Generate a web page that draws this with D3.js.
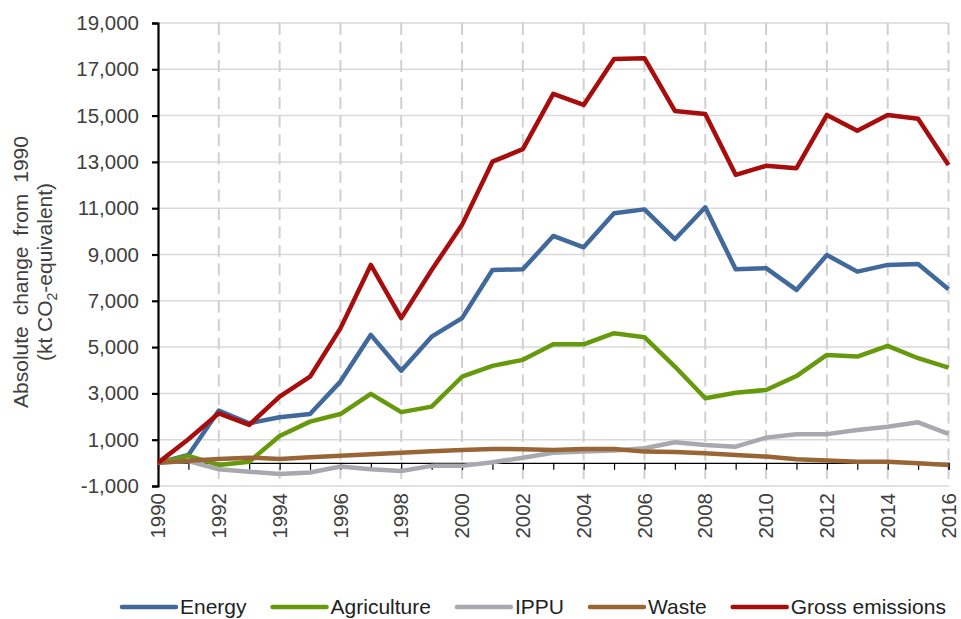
<!DOCTYPE html>
<html>
<head>
<meta charset="utf-8">
<script src="https://cdn.jsdelivr.net/npm/d3@7"></script>
<style>
  body { margin: 0; background: #fff; }
  text { font-family: "Liberation Sans", Arial, sans-serif; }
</style>
</head>
<body>
<svg id="chart" width="961" height="619"></svg>
<script>
// years and series (absolute change from 1990, kt CO2-e)
var years = [1990, 1991, 1992, 1993, 1994, 1995, 1996, 1997, 1998, 1999, 2000, 2001, 2002,
  2003, 2004, 2005, 2006, 2007, 2008, 2009, 2010, 2011, 2012, 2013, 2014, 2015, 2016];

var energy = [0, 340, 2260, 1710, 1970, 2110, 3510, 5530, 3980, 5450, 6250, 8330, 8360,
  9800, 9310, 10780, 10950, 9660, 11040, 8360, 8410, 7470, 8980, 8260, 8550, 8590, 7500];
var agriculture = [0, 300, -90, 50, 1160, 1780, 2110, 2980, 2190, 2430, 3720, 4190, 4450,
  5120, 5120, 5600, 5430, 4160, 2790, 3030, 3150, 3750, 4660, 4590, 5050, 4520, 4110];
var ippu = [0, 80, -280, -380, -480, -420, -160, -280, -350, -130, -130, 30, 220,
  440, 485, 530, 630, 890, 770, 700, 1090, 1240, 1240, 1420, 1560, 1750, 1250];
var waste = [0, 90, 170, 225, 170, 240, 310, 370, 440, 500, 560, 600, 590,
  560, 600, 600, 485, 470, 415, 340, 270, 155, 100, 50, 50, -20, -90];
var gross = [0, 1020, 2140, 1640, 2860, 3720, 5810, 8550, 6250, 8330, 10280, 13010, 13550,
  15940, 15460, 17440, 17480, 15200, 15070, 12440, 12830, 12730, 15030, 14350, 15030, 14860, 12870];

var yTicks = [-1000, 1000, 3000, 5000, 7000, 9000, 11000, 13000, 15000, 17000, 19000];
var xTicks = [1990, 1992, 1994, 1996, 1998, 2000, 2002, 2004, 2006, 2008, 2010, 2012, 2014, 2016];

var series = [
  { name: "Energy", values: energy, color: "#41699b" },
  { name: "Agriculture", values: agriculture, color: "#669a0c" },
  { name: "IPPU", values: ippu, color: "#a7a9ae" },
  { name: "Waste", values: waste, color: "#996535" },
  { name: "Gross emissions", values: gross, color: "#a80d0d" }
];

var svg = d3.select("#chart");
var plotL = 158, plotR = 948.5, plotT = 23, plotB = 486;

var x = d3.scaleLinear().domain([1990, 2016]).range([plotL, plotR]);
var y = d3.scaleLinear().domain([-1000, 19000]).range([plotB, plotT]);

// plain hyphen for negatives, like the original
var fmt = d3.formatLocale({ decimal: ".", thousands: ",", grouping: [3], currency: ["", ""], minus: "-" }).format(",");

// horizontal gridlines
svg.append("g")
  .selectAll("line")
  .data(yTicks)
  .join("line")
  .attr("x1", plotL).attr("x2", plotR)
  .attr("y1", d => y(d)).attr("y2", d => y(d))
  .attr("stroke", "#d9d9d9")
  .attr("stroke-width", 1.5);

// vertical dashed gridlines
svg.append("g")
  .selectAll("line")
  .data(xTicks.slice(1))
  .join("line")
  .attr("x1", d => x(d)).attr("x2", d => x(d))
  .attr("y1", plotT).attr("y2", plotB)
  .attr("stroke", "#d0d0d0")
  .attr("stroke-width", 2)
  .attr("stroke-dasharray", "12,6.5");

// x axis at zero
var xAxis = d3.axisBottom(x)
  .tickValues(years)
  .tickSize(7)
  .tickFormat("");
var gx = svg.append("g")
  .attr("transform", "translate(0," + y(0) + ")")
  .call(xAxis);
gx.select(".domain").attr("stroke", "#000").attr("stroke-width", 1.2);
gx.selectAll(".tick line").attr("stroke", "#000").attr("stroke-width", 1.2);

// x labels (rotated, below plot)
svg.append("g")
  .selectAll("text")
  .data(xTicks)
  .join("text")
  .attr("transform", d => "translate(" + x(d) + "," + (plotB + 7) + ") rotate(-90)")
  .attr("text-anchor", "end")
  .attr("dy", "0.35em")
  .attr("font-size", 20.5)
  .attr("fill", "#404040")
  .text(d => d);

// y axis
var yAxis = d3.axisLeft(y)
  .tickValues(yTicks)
  .tickSize(6)
  .tickPadding(13)
  .tickFormat(fmt);
var gy = svg.append("g")
  .attr("transform", "translate(" + plotL + ",0)")
  .call(yAxis);
gy.select(".domain").attr("stroke", "#000").attr("stroke-width", 2.2);
gy.selectAll(".tick line").attr("stroke", "#000").attr("stroke-width", 2.2);
gy.selectAll(".tick text")
  .attr("font-size", 20.5)
  .attr("font-family", "'Liberation Sans', Arial, sans-serif")
  .attr("fill", "#404040");

// y title
svg.append("text")
  .attr("transform", "translate(21,272) rotate(-90)")
  .attr("text-anchor", "middle")
  .attr("dy", "0.35em")
  .attr("font-size", 21)
  .attr("fill", "#404040")
  .attr("word-spacing", 5)
  .text("Absolute change from 1990");

var t2 = svg.append("text")
  .attr("transform", "translate(45,272) rotate(-90)")
  .attr("text-anchor", "middle")
  .attr("dy", "0.35em")
  .attr("font-size", 21)
  .attr("fill", "#404040");
t2.append("tspan").text("(kt CO");
t2.append("tspan").attr("font-size", 14).attr("dy", 5).text("2");
t2.append("tspan").attr("dy", -5).text("-equivalent)");

// lines
var line = d3.line()
  .x((d, i) => x(years[i]))
  .y(d => y(d));

svg.append("g")
  .selectAll("path")
  .data(series)
  .join("path")
  .attr("d", d => line(d.values))
  .attr("fill", "none")
  .attr("stroke", d => d.color)
  .attr("stroke-width", 4.5)
  .attr("stroke-linejoin", "round");

// legend
var legend = svg.append("g").attr("transform", "translate(0,607)");
var lx = 122;
series.forEach(function (s) {
  legend.append("line")
    .attr("x1", lx).attr("x2", lx + 54)
    .attr("y1", 0).attr("y2", 0)
    .attr("stroke", s.color)
    .attr("stroke-width", 4.5)
    .attr("stroke-linecap", "round");
  var t = legend.append("text")
    .attr("x", lx + 58)
    .attr("dy", "0.35em")
    .attr("font-size", 21)
    .attr("fill", "#222")
    .text(s.name);
  lx += 58 + t.node().getComputedTextLength() + 26;
});
</script>
</body>
</html>
